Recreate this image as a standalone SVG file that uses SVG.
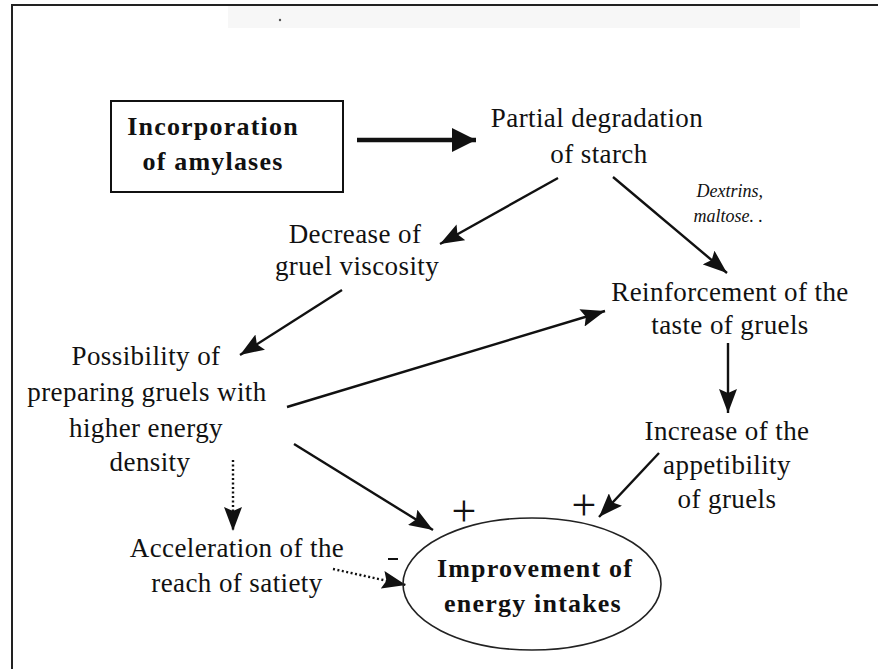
<svg xmlns="http://www.w3.org/2000/svg" width="878" height="669" viewBox="0 0 878 669">
<style>
.t{font-family:"Liberation Serif","Times New Roman",serif;font-size:27px;fill:#111;text-anchor:middle;letter-spacing:0.4px}
.b{font-weight:bold;font-size:26px;letter-spacing:1.2px}
.i{font-family:"Liberation Serif","Times New Roman",serif;font-style:italic;font-size:18px;fill:#111;text-anchor:end}
.p{font-family:"Liberation Serif","Times New Roman",serif;font-size:44px;fill:#111;text-anchor:middle}
.s{fill:none;stroke:#111;stroke-width:2.4}
.d{fill:none;stroke:#111;stroke-width:2.4;stroke-dasharray:2 2.5}
</style>
<defs>
<marker id="a" viewBox="0 0 24 18" refX="24" refY="9" markerWidth="24" markerHeight="18" markerUnits="userSpaceOnUse" orient="auto">
<path d="M0,0 L24,9 L0,18 L4,9 Z" fill="#111"/>
</marker>
<marker id="ab" viewBox="0 0 24 24" refX="24" refY="12" markerWidth="24" markerHeight="24" markerUnits="userSpaceOnUse" orient="auto">
<path d="M0,0 L24,12 L0,24 Z" fill="#111"/>
</marker>
</defs>
<rect width="878" height="669" fill="#fff"/>
<rect x="228" y="6" width="572" height="22" fill="#f7f7f7"/>
<circle cx="280" cy="20" r="1.2" fill="#555"/>
<g id="frame" fill="none" stroke="#222" stroke-width="2">
<line x1="11" y1="5" x2="878" y2="5"/>
<line x1="12" y1="5" x2="12" y2="669"/>
</g>
<g id="connectors">
<line x1="357" y1="140" x2="476" y2="140" stroke="#111" stroke-width="4.5" marker-end="url(#ab)"/>
<line x1="558" y1="178" x2="440" y2="244" class="s" marker-end="url(#a)"/>
<line x1="613" y1="177" x2="727" y2="273" class="s" marker-end="url(#a)"/>
<line x1="342" y1="290" x2="240" y2="355" class="s" marker-end="url(#a)"/>
<line x1="287" y1="407" x2="605" y2="311" class="s" marker-end="url(#a)"/>
<line x1="294" y1="444" x2="433" y2="530" class="s" marker-end="url(#a)"/>
<line x1="233" y1="460" x2="233" y2="531" class="d" marker-end="url(#a)"/>
<line x1="333" y1="569" x2="406" y2="585" class="d" marker-end="url(#a)"/>
<line x1="728" y1="343" x2="728" y2="413" class="s" marker-end="url(#a)"/>
<line x1="659" y1="453" x2="599" y2="517" class="s" marker-end="url(#a)"/>
</g>
<g id="n_amylases">
<rect x="111" y="101" width="232" height="91" fill="none" stroke="#111" stroke-width="2"/>
<text class="t b" x="213" y="135">Incorporation</text>
<text class="t b" x="213" y="170">of amylases</text>
</g>
<g id="n_degradation">
<text class="t" x="597" y="127">Partial degradation</text>
<text class="t" x="599" y="163">of starch</text>
</g>
<g id="l_dextrins">
<text class="i" x="763" y="197">Dextrins,</text>
<text class="i" x="763" y="222">maltose. .</text>
</g>
<g id="n_viscosity">
<text class="t" x="355" y="243">Decrease of</text>
<text class="t" x="357" y="275">gruel viscosity</text>
</g>
<g id="n_taste">
<text class="t" x="730" y="301">Reinforcement of the</text>
<text class="t" x="730" y="334">taste of gruels</text>
</g>
<g id="n_possibility">
<text class="t" x="146" y="365">Possibility of</text>
<text class="t" x="147" y="401">preparing gruels with</text>
<text class="t" x="146" y="437">higher energy</text>
<text class="t" x="150" y="471">density</text>
</g>
<g id="n_appetibility">
<text class="t" x="727" y="440">Increase of the</text>
<text class="t" x="727" y="474">appetibility</text>
<text class="t" x="727" y="508">of gruels</text>
</g>
<g id="n_satiety">
<text class="t" x="237" y="557">Acceleration of the</text>
<text class="t" x="237" y="592">reach of satiety</text>
</g>
<g id="n_energy">
<ellipse cx="532" cy="584" rx="129" ry="66" fill="none" stroke="#222" stroke-width="1.6"/>
<text class="t b" x="535" y="577">Improvement of</text>
<text class="t b" x="533" y="612">energy intakes</text>
</g>
<g id="signs">
<text class="p" x="464" y="526">+</text>
<text class="p" x="584" y="520">+</text>
<line x1="388" y1="559" x2="398" y2="559" stroke="#111" stroke-width="2"/>
</g>
</svg>
